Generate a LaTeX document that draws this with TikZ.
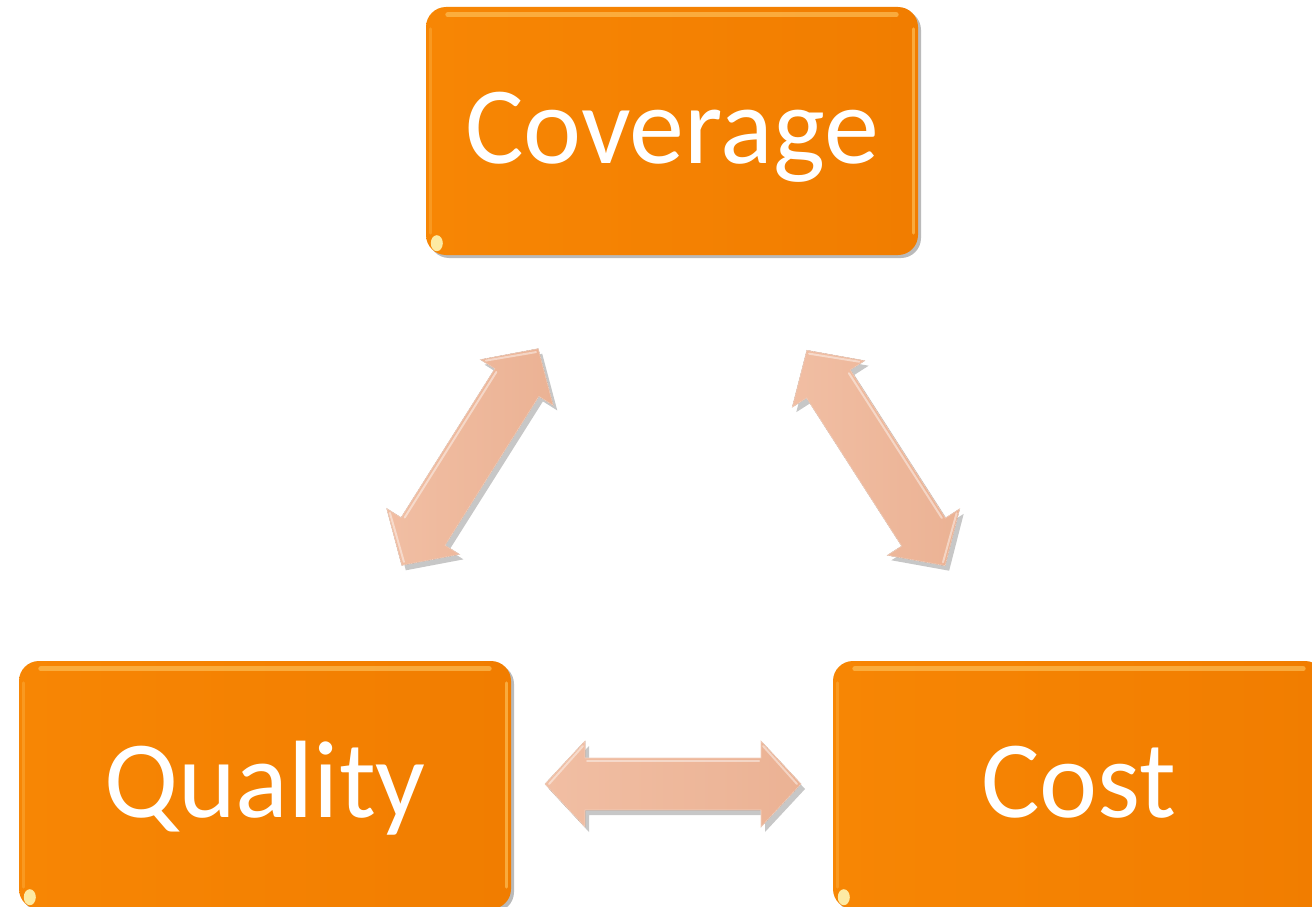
\documentclass[tikz,border=0pt]{standalone}
\usepackage{fontspec}
\setmainfont{Carlito}
\usetikzlibrary{shadows,calc}
\definecolor{boxL}{RGB}{247,134,4}
\definecolor{boxR}{RGB}{241,125,0}
\definecolor{arrL}{RGB}{241,190,163}
\definecolor{arrR}{RGB}{235,178,148}
\definecolor{hlc}{RGB}{255,200,100}
\tikzset{
  box/.style={rounded corners=20pt, minimum width=492pt, minimum height=248pt,
    inner sep=0pt, left color=boxL, right color=boxR, draw=none,
    drop shadow={shadow xshift=3pt, shadow yshift=-3pt, opacity=0.45, fill=black!60},
    text=white, font=\fontsize{110}{120}\selectfont, text height=80pt, text depth=16pt},
  hl/.style={hlc, line width=5pt, line cap=round, opacity=0.6},
  spot/.style={fill=yellow!25!white, opacity=0.85},
  arrfill/.style={left color=arrL, right color=arrR, draw=white!40!arrR, line width=0.6pt},
  arrshadow/.style={fill=black, opacity=0.22},
  arrhl/.style={white, line width=2pt, opacity=0.45, line cap=round}
}
\newcommand\arrshape{(-128,0) -- (-88,43) -- (-88,26) -- (88,26) -- (88,43) -- (128,0) -- (88,-43) -- (88,-26) -- (-88,-26) -- (-88,-43) -- cycle}
\newcommand\dblarw[2]{%
  \begin{scope}[shift={($(#1)+(4,5)$)}, rotate=#2]
    \fill[arrshadow] \arrshape;
  \end{scope}
  \begin{scope}[shift={(#1)}, rotate=#2]
    \fill[arrfill] \arrshape;
    \draw[arrhl] (-86,-23) -- (86,-23);
    \draw[arrhl] (-124,0) -- (-90,-38);
    \draw[arrhl] (90,-38) -- (124,0);
  \end{scope}}
\begin{document}
\begin{tikzpicture}[x=1pt,y=-1pt]
\useasboundingbox (0,0) rectangle (1312,907);
\fill[white] (0,0) rectangle (1312,907);
\node[box] (cov) at (672,131) {Coverage};
\node[box] (qual) at (265,785) {Quality};
\node[box] (cost) at (1079,785) {Cost};
\foreach \n in {cov,qual,cost}{
  \draw[hl] ([xshift=22pt,yshift=-8pt]\n.north west) -- ([xshift=-22pt,yshift=-8pt]\n.north east);
  \draw[hl, line width=3pt] ([xshift=-5pt,yshift=-22pt]\n.north east) -- ([xshift=-5pt,yshift=22pt]\n.south east);
  \draw[hl, line width=3pt, opacity=0.3] ([xshift=5pt,yshift=-22pt]\n.north west) -- ([xshift=5pt,yshift=22pt]\n.south west);
  \fill[spot] ([xshift=11pt,yshift=12pt]\n.south west) ellipse (6 and 8);
}
\coordinate (aL) at (470,457);
\coordinate (aR) at (876,458);
\coordinate (aB) at (673,784);
\dblarw{aL}{57.8}
\dblarw{aR}{-57.3}
\dblarw{aB}{0}
\end{tikzpicture}
\end{document}
